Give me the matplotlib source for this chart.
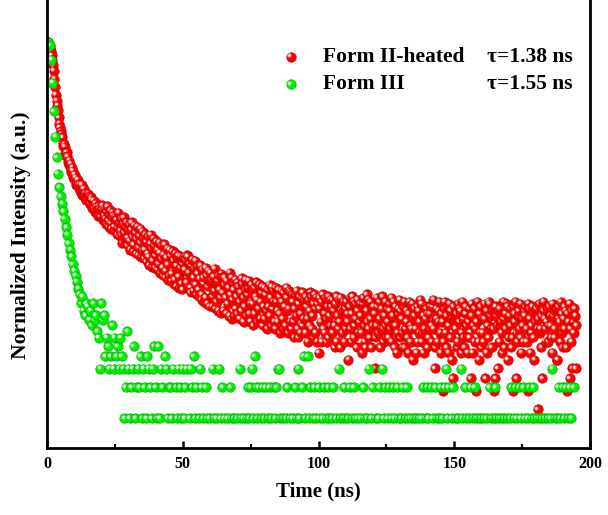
import numpy as np
import matplotlib.pyplot as plt
from matplotlib.transforms import offset_copy
from matplotlib.ticker import MultipleLocator, NullLocator

plt.rcParams['font.family'] = ['Liberation Serif', 'DejaVu Serif']
plt.rcParams['font.weight'] = 'bold'

# photon counts (0 = empty channel, not drawn on log axis)
# Form II-heated: 0.25 ns per channel
red_counts = [
    7000, 7300, 7000, 6650, 6300, 5950, 5400, 4850, 4350, 3850, 3200, 2650, 2250, 1960, 1750, 1580, 1350, 1180, 1080, 1000,
    930, 870, 760, 720, 740, 700, 610, 575, 620, 570, 500, 470, 515, 480, 420, 400, 440, 410, 360, 345,
    375, 350, 300, 318, 335, 300, 280, 305, 262, 285, 300, 240, 258, 275, 236, 222, 250, 215, 238, 222,
    245, 232, 195, 200, 228, 214, 180, 190, 210, 178, 165, 198, 185, 168, 150, 186, 175, 160, 148, 172,
    190, 172, 135, 150, 180, 141, 126, 166, 185, 136, 118, 155, 170, 128, 112, 146, 162, 151, 108, 119,
    150, 138, 100, 116, 160, 129, 95, 108, 140, 98, 82, 126, 145, 104, 88, 117, 130, 92, 78, 110,
    125, 86, 70, 111, 130, 95, 68, 79, 120, 103, 65, 90, 118, 74, 62, 97, 112, 83, 60, 69,
    105, 92, 58, 71, 100, 84, 54, 64, 95, 60, 50, 81, 98, 73, 48, 55, 90, 77, 47, 62,
    85, 70, 45, 52, 82, 66, 42, 58, 78, 47, 40, 63, 80, 44, 38, 59, 72, 51, 36, 40,
    70, 62, 35, 41, 68, 55, 33, 36, 65, 49, 31, 58, 62, 39, 30, 47, 60, 33, 29, 52,
    58, 45, 60, 57, 34, 62, 61, 30, 42, 52, 30, 27, 50, 56, 38, 28, 46, 55, 32, 26,
    48, 41, 29, 25, 37, 50, 26, 23, 45, 33, 38, 22, 24, 47, 40, 21, 31, 44, 35, 20,
    42, 36, 25, 20, 39, 28, 46, 19, 33, 22, 35, 18, 40, 29, 24, 17, 41, 38, 27, 18,
    38, 32, 24, 17, 35, 21, 30, 16, 42, 26, 38, 15, 23, 33, 29, 16, 36, 19, 25, 17,
    34, 31, 22, 15, 27, 18, 37, 33, 24, 14, 20, 36, 29, 16, 26, 30, 35, 17, 21, 14,
    32, 28, 21, 13, 30, 17, 25, 34, 23, 14, 19, 33, 32, 15, 22, 27, 31, 13, 20, 15,
    30, 26, 18, 12, 29, 20, 16, 32, 24, 13, 31, 19, 22, 28, 14, 12, 30, 22, 18, 14,
    29, 25, 17, 11, 22, 28, 15, 12, 27, 20, 13, 30, 24, 18, 11, 19, 28, 14, 27, 12,
    26, 22, 14, 10, 19, 26, 16, 28, 12, 10, 21, 25, 17, 11, 24, 27, 13, 15, 23, 11,
    25, 20, 15, 9, 23, 13, 18, 27, 25, 12, 16, 10, 21, 26, 11, 19, 24, 9, 21, 7,
    24, 19, 14, 9, 22, 26, 12, 17, 11, 24, 15, 9, 20, 25, 10, 16, 23, 13, 20, 11,
    23, 18, 13, 8, 21, 25, 9, 16, 12, 23, 14, 8, 24, 17, 11, 18, 22, 9, 19, 12,
    22, 14, 17, 6, 20, 24, 12, 9, 17, 25, 22, 10, 13, 21, 15, 8, 18, 23, 11, 14,
    21, 16, 11, 7, 21, 24, 13, 9, 8, 18, 26, 14, 23, 12, 10, 22, 15, 8, 19, 13,
    20, 17, 5, 10, 13, 24, 20, 11, 15, 22, 8, 12, 19, 25, 12, 9, 16, 22, 13, 10,
    19, 14, 10, 21, 18, 12, 24, 9, 16, 13, 22, 8, 13, 20, 7, 11, 17, 19, 23, 10,
    18, 15, 11, 8, 20, 22, 8, 12, 14, 18, 10, 7, 17, 22, 13, 9, 12, 21, 6, 15,
    19, 16, 12, 7, 9, 20, 18, 11, 14, 23, 21, 9, 11, 16, 7, 12, 15, 20, 19, 8,
    17, 10, 12, 17, 20, 13, 9, 20, 23, 12, 5, 8, 15, 19, 9, 14, 18, 22, 11, 7,
    17, 14, 3, 9, 19, 22, 11, 8, 16, 20, 13, 7, 21, 18, 10, 6, 15, 4, 20, 15,
    16, 12, 17, 8, 9, 21, 14, 19, 18, 7, 11, 22, 15, 10, 8, 17, 20, 13, 10, 7,
    14, 10, 19, 4, 16, 21, 7, 13, 19, 9, 12, 3, 14, 22, 9, 6, 17, 20, 11, 8,
    15, 11, 9, 15, 21, 4, 18, 7, 13, 10, 22, 21, 16, 12, 8, 18, 12, 3, 19, 4,
    20, 16, 13, 5, 18, 9, 19, 13, 14, 11, 7, 22, 15, 8, 17, 12, 21, 20, 6, 10,
    16, 13, 19, 8, 10, 3, 20, 17, 14, 22, 4, 11, 9, 16, 18, 12, 21, 10, 7, 15,
    13, 9, 18, 16, 20, 12, 9, 3, 21, 19, 15, 7, 11, 13, 20, 10, 17, 6, 18, 14,
    19, 12, 2, 15, 21, 11, 12, 8, 16, 4, 22, 18, 15, 12, 9, 14, 19, 9, 13, 20,
    16, 13, 10, 7, 21, 16, 12, 10, 18, 19, 6, 6, 20, 15, 14, 9, 22, 17, 11, 8,
    15, 12, 20, 18, 8, 3, 17, 14, 21, 4, 12, 9, 18, 5, 14, 11, 19, 16, 5, 13,
]

# Form III: 0.5 ns per channel
green_counts = [
    4470, 4150, 3000, 1800, 950, 540, 340, 235, 175, 142,
    120, 102, 86, 71, 60, 50, 43, 37, 31, 27,
    24, 21, 18, 16, 13, 15, 11, 10, 13, 12,
    9, 11, 8, 13, 9, 10, 7, 6, 3, 13,
    9, 10, 4, 6, 5, 3, 4, 8, 3, 6,
    4, 5, 3, 6, 4, 3, 1, 2, 7, 3,
    1, 2, 3, 5, 1, 2, 3, 2, 4, 1,
    3, 2, 1, 4, 3, 2, 1, 3, 5, 2,
    1, 5, 1, 3, 2, 0, 4, 3, 1, 2,
    2, 1, 3, 0, 2, 1, 3, 2, 1, 3,
    1, 2, 3, 0, 1, 3, 2, 4, 1, 2,
    0, 1, 3, 2, 1, 0, 2, 1, 0, 1,
    0, 3, 1, 0, 1, 0, 3, 1, 2, 0,
    1, 0, 1, 0, 2, 1, 0, 1, 0, 1,
    0, 3, 1, 0, 1, 0, 1, 2, 1, 2,
    3, 1, 4, 2, 1, 2, 0, 1, 2, 1,
    2, 0, 1, 2, 1, 0, 2, 1, 2, 3,
    3, 1, 0, 1, 0, 1, 2, 0, 1, 0,
    1, 0, 2, 1, 3, 1, 0, 2, 4, 1,
    0, 4, 1, 2, 0, 1, 2, 1, 0, 2,
    1, 0, 1, 2, 0, 1, 2, 1, 0, 1,
    2, 0, 1, 0, 3, 1, 0, 1, 2, 1,
    0, 1, 2, 0, 1, 2, 1, 0, 1, 0,
    1, 0, 2, 1, 0, 1, 3, 0, 1, 2,
    0, 1, 0, 1, 2, 0, 3, 1, 2, 0,
    1, 2, 0, 1, 2, 1, 0, 2, 1, 0,
    1, 2, 0, 1, 2, 1, 0, 1, 0, 1,
    0, 1, 0, 1, 0, 1, 2, 0, 1, 2,
    1, 0, 2, 1, 0, 2, 1, 0, 1, 2,
    1, 0, 2, 3, 1, 2, 0, 1, 2, 0,
    1, 0, 1, 0, 3, 1, 0, 2, 1, 0,
    1, 2, 0, 1, 2, 1, 0, 1, 0, 1,
    0, 1, 0, 1, 0, 2, 1, 0, 1, 2,
    1, 0, 1, 0, 1, 0, 1, 0, 1, 0,
    1, 2, 0, 1, 2, 1, 0, 2, 1, 0,
    2, 1, 0, 1, 2, 0, 1, 2, 1, 0,
    1, 0, 1, 0, 1, 0, 1, 0, 1, 0,
    1, 3, 0, 1, 0, 1, 2, 1, 0, 2,
    1, 2, 0, 1, 2, 1, 0, 2, 0, 0,
]

red_time = np.arange(1, len(red_counts) + 1) * 0.25
green_time = np.arange(1, len(green_counts) + 1) * 0.5

labels = ['Form II-heated', 'Form III']
lifetimes = ['τ=1.38 ns', 'τ=1.55 ns']


def draw_balls(ax, x, y, face, edge, tint, trans=None):
    # shaded spheres: body, then a lighter spot up-left, one point at a time
    if trans is None:
        trans = ax.transData
    hl = offset_copy(trans, fig=ax.figure, x=-1.4, y=1.4, units='dots')
    for xi, yi in zip(x, y):
        ax.scatter([xi], [yi], s=46, color=face, edgecolors=edge,
                   linewidths=0.5, transform=trans)
        ax.scatter([xi], [yi], s=9, color=tint, linewidths=0, transform=hl)
        ax.scatter([xi], [yi], s=2, color='white', linewidths=0, transform=hl)


fig = plt.figure(figsize=(6.08, 5.15), dpi=100)
ax = fig.add_axes([47 / 608, 67 / 515, 543 / 608, 448 / 515])

red = np.array(red_counts, dtype=float)
green = np.array(green_counts, dtype=float)
rm = red > 0
gm = green > 0

draw_balls(ax, red_time[rm], red[rm] / red.max(), '#ff0000', '#c80000', '#ff9a9a')
draw_balls(ax, green_time[gm], green[gm] / green.max(), '#00f000', '#00b000', '#a8ffa8')

ax.set_yscale('log')
ax.set_xlim(0, 200)
ax.set_ylim(10 ** (-406 / 103), 10 ** (42 / 103))
ax.set_yticks([])
ax.yaxis.set_minor_locator(NullLocator())
ax.xaxis.set_major_locator(MultipleLocator(50))
ax.xaxis.set_minor_locator(MultipleLocator(25))
ax.tick_params(axis='x', which='major', direction='in', length=5, width=1.8,
               labelsize=11.5, pad=6)
ax.tick_params(axis='x', which='minor', direction='in', length=3, width=1.5)
for lab in ax.get_xticklabels():
    lab.set_fontweight('bold')

for side in ['left', 'right', 'bottom']:
    ax.spines[side].set_linewidth(2.0)
ax.spines['top'].set_visible(False)

ax.set_xlabel('Time (ns)', fontsize=15, fontweight='bold')
ax.xaxis.set_label_coords(0.5, -0.075)
ax.set_ylabel('Normalized Intensity (a.u.)', fontsize=15.5, fontweight='bold')
ax.yaxis.set_label_coords(-0.03, 0.475)

# legend
rows = [0.873, 0.8125]
draw_balls(ax, [0.449], [rows[0]], '#ff0000', '#c80000', '#ff9a9a', trans=ax.transAxes)
draw_balls(ax, [0.449], [rows[1]], '#00f000', '#00b000', '#a8ffa8', trans=ax.transAxes)
for yy, lab, tau in zip(rows, labels, lifetimes):
    ax.text(0.508, yy, lab, transform=ax.transAxes, fontsize=15.5,
            fontweight='bold', va='center', ha='left')
    ax.text(0.810, yy, tau, transform=ax.transAxes, fontsize=15.5,
            fontweight='bold', va='center', ha='left')

fig.savefig('out.png', dpi=100)
